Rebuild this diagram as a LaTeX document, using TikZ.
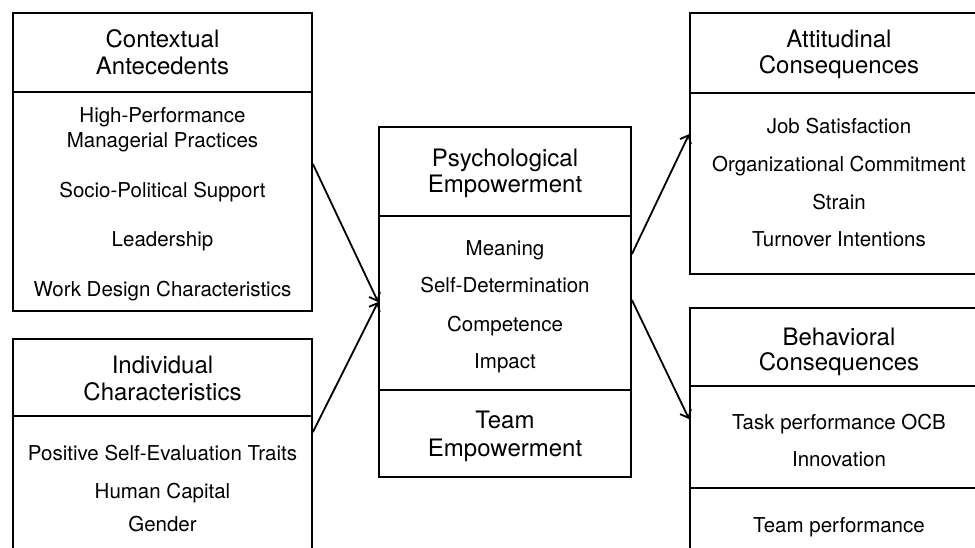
\documentclass[tikz,border=0pt]{standalone}
\usepackage{fontspec}
\setmainfont{TeX Gyre Heros}
\usetikzlibrary{arrows.meta}
\begin{document}
\begin{tikzpicture}[x=1pt,y=-1pt,
  box/.style={draw, line width=1.8pt, inner sep=0pt, rectangle},
  hd/.style={anchor=base, inner sep=0pt, font=\fontsize{24}{27}\selectfont},
  it/.style={anchor=base, inner sep=0pt, font=\fontsize{20.5}{24}\selectfont},
  div/.style={line width=1.8pt},
  arr/.style={line width=1.8pt, -{Straight Barb[length=7pt,width=12pt,line width=1.8pt]}}]
\useasboundingbox (0,0) rectangle (975,548);
\clip (0,0) rectangle (975,548);

% boxes
\node[box, minimum width=299pt, minimum height=298pt] (ca) at (162.5,162) {};
\node[box, minimum width=299pt, minimum height=231pt] (ic) at (162.5,454.5) {};
\node[box, minimum width=252pt, minimum height=350pt] (pe) at (505,302) {};
\node[box, minimum width=298pt, minimum height=261pt] (ac) at (839,143.5) {};
\node[box, minimum width=298pt, minimum height=262pt] (bc) at (839,439) {};

% dividers
\draw[div] ([yshift=-80pt]ca.north west) -- ([yshift=-80pt]ca.north east);
\draw[div] ([yshift=-78pt]ic.north west) -- ([yshift=-78pt]ic.north east);
\draw[div] ([yshift=-90pt]pe.north west) -- ([yshift=-90pt]pe.north east);
\draw[div] ([yshift=-264pt]pe.north west) -- ([yshift=-264pt]pe.north east);
\draw[div] ([yshift=-81pt]ac.north west) -- ([yshift=-81pt]ac.north east);
\draw[div] ([yshift=-79pt]bc.north west) -- ([yshift=-79pt]bc.north east);
\draw[div] ([yshift=-181pt]bc.north west) -- ([yshift=-181pt]bc.north east);

% left top text
\node[hd] (ca1) at (162.5,48) {Contextual};
\node[hd] (ca2) at (162.5,75) {Antecedents};
\node[it] (ca3) at (162.5,123) {High-Performance};
\node[it] (ca4) at (162.5,148) {Managerial Practices};
\node[it] (ca5) at (162.5,198) {Socio-Political Support};
\node[it] (ca6) at (162.5,247) {Leadership};
\node[it] (ca7) at (162.5,296) {Work Design Characteristics};

% left bottom text
\node[hd] (ic1) at (162.5,373) {Individual};
\node[hd] (ic2) at (162.5,400) {Characteristics};
\node[it] (ic3) at (162.5,460) {Positive Self-Evaluation Traits};
\node[it] (ic4) at (162.5,498) {Human Capital};
\node[it] (ic5) at (162.5,531) {Gender};

% center text
\node[hd] (pe1) at (505,167) {Psychological};
\node[hd] (pe2) at (505,193) {Empowerment};
\node[it] (pe3) at (505,256) {Meaning};
\node[it] (pe4) at (505,293) {Self-Determination};
\node[it] (pe5) at (505,331) {Competence};
\node[it] (pe6) at (505,368) {Impact};
\node[hd] (pe7) at (505,428) {Team};
\node[hd] (pe8) at (505,456) {Empowerment};

% right top text
\node[hd] (ac1) at (839,48) {Attitudinal};
\node[hd] (ac2) at (839,74) {Consequences};
\node[it] (ac3) at (839,134) {Job Satisfaction};
\node[it] (ac4) at (839,172) {Organizational Commitment};
\node[it] (ac5) at (839,210) {Strain};
\node[it] (ac6) at (839,247) {Turnover Intentions};

% right bottom text
\node[hd] (bc1) at (839,345) {Behavioral};
\node[hd] (bc2) at (839,370) {Consequences};
\node[it] (bc3) at (839,429) {Task performance OCB};
\node[it] (bc4) at (839,466) {Innovation};
\node[it] (bc5) at (839,532) {Team performance};

% arrows
\draw[arr] ([yshift=-2pt]ca.east) -- (pe.west);
\draw[arr] ([yshift=-94pt]ic.north east) -- (pe.west);
\draw[arr] ([yshift=-128pt]pe.north east) -- ([yshift=-122pt]ac.north west);
\draw[arr] ([yshift=2pt]pe.east) -- ([yshift=-112pt]bc.north west);
\end{tikzpicture}
\end{document}
